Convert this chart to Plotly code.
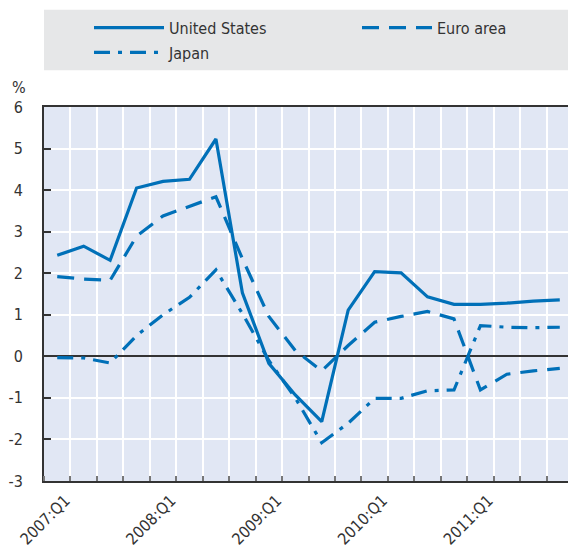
import plotly.graph_objects as go

quarters = [f"{y}:Q{q}" for y in range(2007, 2012) for q in range(1, 5)]
tick_labels = ["2007:Q1", "2008:Q1", "2009:Q1", "2010:Q1", "2011:Q1"]
y_ticks = [-3, -2, -1, 0, 1, 2, 3, 4, 5, 6]

united_states = [2.43, 2.65, 2.31, 4.05, 4.21, 4.26, 5.23, 1.53,
                 -0.17, -0.93, -1.57, 1.11, 2.04, 2.01, 1.43, 1.25,
                 1.25, 1.28, 1.33, 1.36]
euro_area = [1.92, 1.86, 1.83, 2.89, 3.38, 3.62, 3.84, 2.35,
             0.96, 0.14, -0.35, 0.26, 0.82, 0.96, 1.08, 0.90,
             -0.81, -0.43, -0.35, -0.29]
japan = [-0.03, -0.04, -0.16, 0.50, 1.0, 1.42, 2.08, 1.03,
         -0.10, -1.0, -2.08, -1.61, -1.01, -1.01, -0.83, -0.81,
         0.74, 0.70, 0.69, 0.70]

BLUE = "#0070b8"
FONT = "DejaVu Sans Condensed, Liberation Sans Narrow, Liberation Sans, sans-serif"
TXT = "#333333"
xs = list(range(len(quarters)))

# page body has an 8px margin; size the figure so it fits the 576x550 window
OFF = 8
W, H = 576 - OFF, 550 - OFF
L, R, T, B = 36, 3, 96, 69
PW, PH = W - L - R, H - T - B


def px_x(page_x):
    return (page_x - OFF - L) / PW


def px_y(page_y):
    return (H - B - (page_y - OFF)) / PH


fig = go.Figure()
fig.add_trace(go.Scatter(x=xs, y=united_states, name="United States", mode="lines",
                         line=dict(color=BLUE, width=3.2), text=quarters,
                         legend="legend"))
fig.add_trace(go.Scatter(x=xs, y=euro_area, name="Euro area", mode="lines",
                         line=dict(color=BLUE, width=3.2, dash="17px,10px"), text=quarters,
                         legend="legend2"))
fig.add_trace(go.Scatter(x=xs, y=japan, name="Japan", mode="lines",
                         line=dict(color=BLUE, width=3.2, dash="16px,8px,4px,8px"), text=quarters,
                         legend="legend3"))

leg_common = dict(xanchor="left", yanchor="middle",
                  bgcolor="rgba(0,0,0,0)", itemwidth=70,
                  font=dict(family=FONT, size=16, color=TXT))

fig.update_layout(
    width=W, height=H,
    margin=dict(l=L, r=R, t=T, b=B),
    paper_bgcolor="white",
    plot_bgcolor="#e1e7f4",
    font=dict(family=FONT, size=16, color=TXT),
    showlegend=True,
    legend=dict(x=px_x(89), y=px_y(24), **leg_common),
    legend2=dict(x=px_x(357), y=px_y(24), **leg_common),
    legend3=dict(x=px_x(89), y=px_y(49), **leg_common),
    shapes=[dict(type="rect", xref="paper", yref="paper", x0=0, x1=px_x(584),
                 y0=px_y(67), y1=px_y(6),
                 fillcolor="#e6e7e8", line=dict(width=0), layer="below")],
    annotations=[dict(text="%", xref="paper", yref="paper", x=px_x(19),
                      y=px_y(84), showarrow=False, xanchor="center",
                      yanchor="middle", font=dict(size=16, color=TXT))],
)

fig.update_xaxes(
    range=[-0.5, 19.5],
    tickvals=[quarters.index(t) for t in tick_labels],
    ticktext=tick_labels,
    tickangle=-45,
    ticks="",
    showgrid=False,
    zeroline=False,
    automargin=False,
    ticklabelshift=8,
    ticklabelstandoff=2,
    showline=True, linecolor=TXT, linewidth=2, mirror=True,
    minor=dict(tickvals=[k - 0.5 for k in range(21)], showgrid=True,
               gridcolor="white", gridwidth=1.5, ticks="inside", ticklen=5,
               tickcolor="#777777", tickwidth=1.5),
)
fig.update_yaxes(
    range=[-3, 6],
    tickvals=y_ticks,
    ticktext=[str(v) for v in y_ticks],
    ticks="inside", ticklen=7, tickcolor=TXT, tickwidth=1.5,
    showgrid=True, gridcolor="white", gridwidth=1.5,
    zeroline=True, zerolinecolor=TXT, zerolinewidth=2,
    automargin=False,
    showline=True, linecolor=TXT, linewidth=2, mirror=True,
    ticklabelstandoff=16,
)

fig.write_html("out.html")
